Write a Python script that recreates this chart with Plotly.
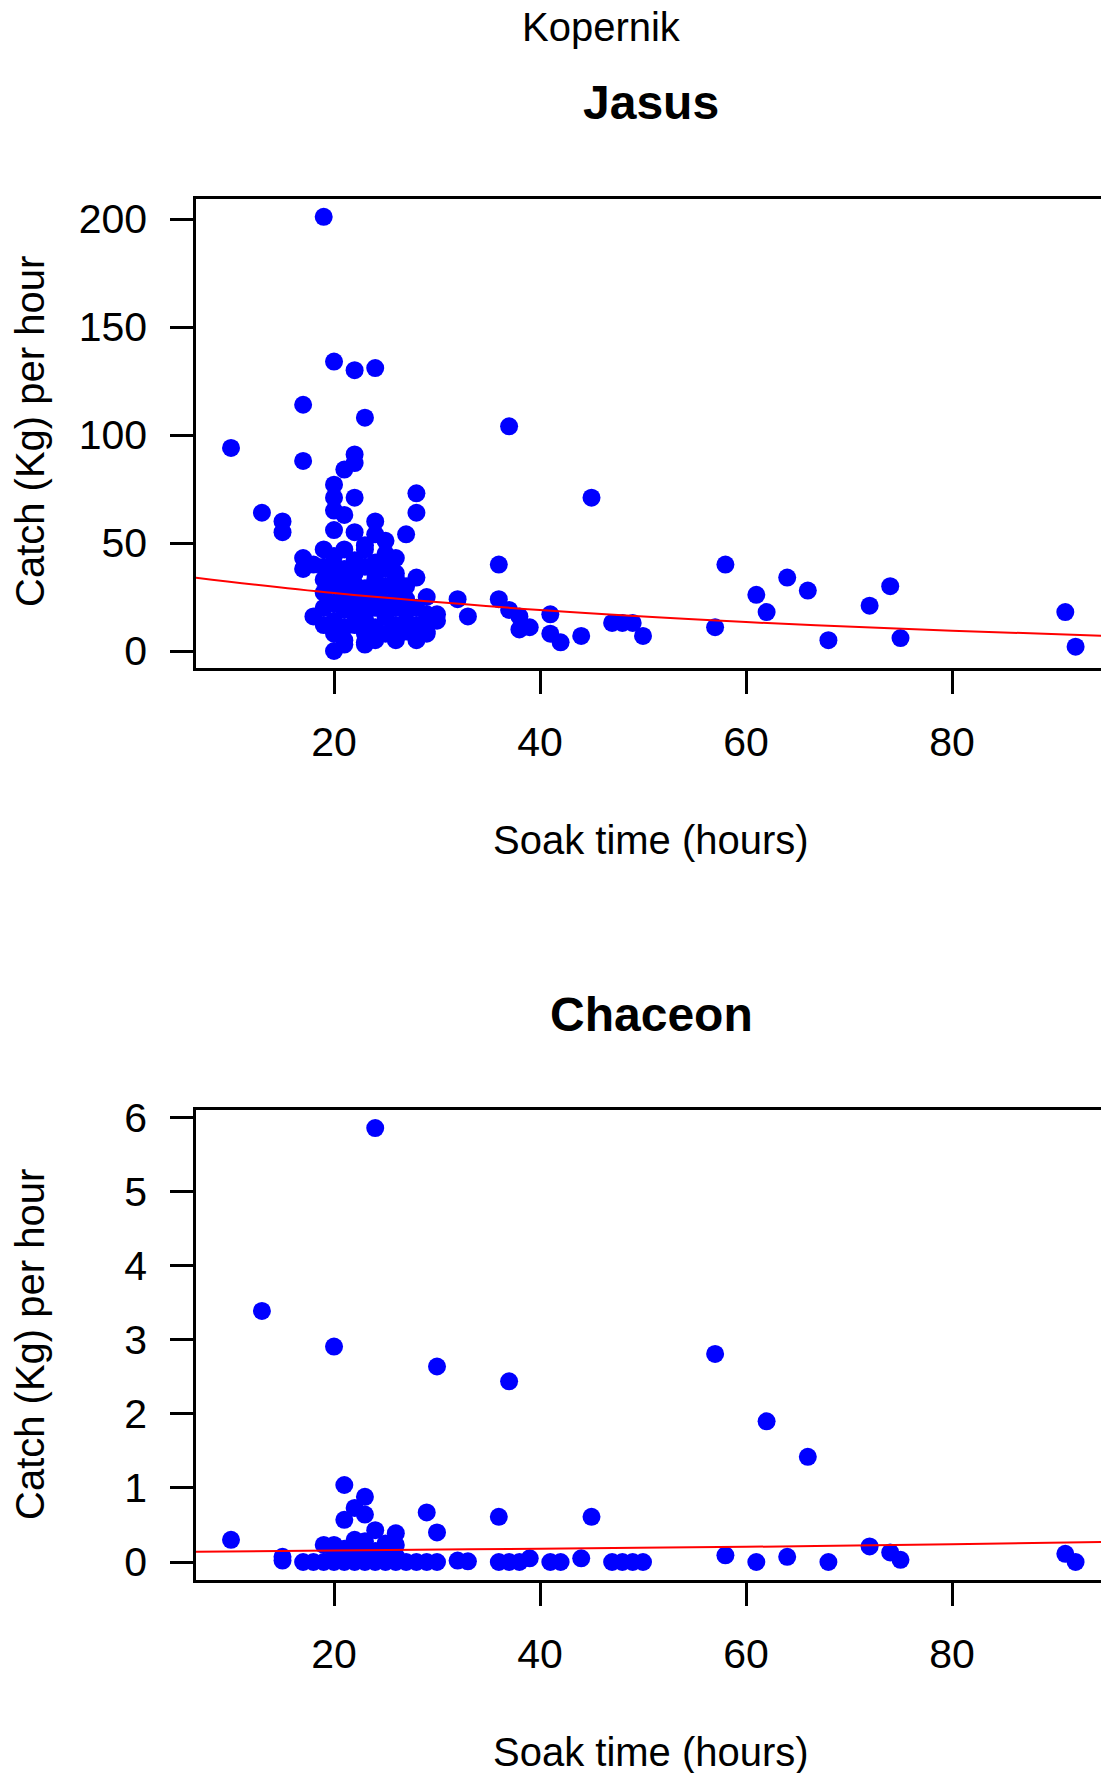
import plotly.graph_objects as go

W, H = 1101, 1773

# ---------------- data ----------------
jasus_x = [19, 20, 22, 24, 17, 23, 37, 10, 17, 22, 22, 21, 20, 20, 22, 20, 21, 28, 28, 45,
           13, 15, 15, 20, 22, 24, 24, 27, 17, 17, 18, 20, 36, 36, 32, 33,
           41, 41, 42, 44, 47, 48, 49, 50, 38, 39, 37, 38, 30, 29, 28, 28, 26, 23, 28, 26,
           58, 61, 62, 64, 66, 57, 68, 72, 74, 75, 91, 92,
           19, 21, 23, 25, 25, 26, 19, 19, 21, 23, 24, 22, 20, 20, 20, 20, 21, 22, 23, 23,
           24, 24, 26, 26, 28, 29, 30, 29, 29, 26, 23, 22, 19, 21, 25, 21, 23, 22, 20, 21,
           24, 25, 27, 22, 20, 24, 21, 23, 22, 27, 25, 24, 27, 26, 25, 21, 19, 22, 23, 28, 27,
           18, 19, 21, 24, 26, 27, 29, 25, 23, 20]
jasus_y = [201, 134, 130, 131, 114, 108, 104, 94, 88, 91, 87, 84, 77, 71, 71, 65, 63, 73, 64, 71,
           64, 60, 55, 56, 55, 60, 54, 54, 43, 38, 16, 0, 40, 24, 24, 16,
           17, 8, 4, 7, 13, 13, 13, 7, 16, 11, 19, 10, 14, 9, 5, 12, 7, 4, 34, 36,
           40, 26, 18, 34, 28, 11, 5, 21, 30, 6, 18, 2,
           47, 47, 49, 45, 51, 34, 33, 39, 38, 39, 33, 31, 30, 22, 14, 8, 5, 17, 8, 3,
           11, 20, 5, 20, 11, 8, 17, 17, 25, 27, 25, 25, 27, 19, 16, 11, 47, 42, 44, 3,
           26, 30, 24, 36, 40, 41, 27, 15, 21, 14, 8, 5, 30, 43, 38, 33, 20, 12, 29, 20, 9,
           40, 12, 22, 36, 12, 19, 13, 22, 19, 35]

chaceon_x = [24, 13, 20, 30, 37, 57, 62, 66, 10, 21, 23, 22, 21, 23, 24, 26, 29, 30, 36, 45,
             19, 20, 22, 23, 25, 26, 15, 15,
             17, 18, 19, 20, 21, 22, 23, 24, 25, 26, 27, 28, 29, 30, 32, 33, 36, 37, 38, 39,
             41, 42, 44, 47, 48, 49, 50,
             58, 61, 64, 68, 72, 74, 75, 91, 92,
             20, 22, 24, 21, 25, 23, 26]
chaceon_y = [5.86, 3.39, 2.91, 2.64, 2.44, 2.81, 1.90, 1.42, 0.30, 1.04, 0.88, 0.73, 0.57, 0.64, 0.43, 0.39, 0.67, 0.40, 0.61, 0.61,
             0.23, 0.23, 0.30, 0.28, 0.25, 0.23, 0.07, 0.02,
             0.0, 0.0, 0.0, 0.0, 0.0, 0.0, 0.0, 0.0, 0.0, 0.0, 0.0, 0.0, 0.0, 0.0, 0.02, 0.01, 0.0, 0.0, 0.0, 0.05,
             0.0, 0.0, 0.05, 0.0, 0.0, 0.0, 0.0,
             0.09, 0.0, 0.07, 0.0, 0.21, 0.13, 0.03, 0.11, 0.0,
             0.10, 0.12, 0.15, 0.18, 0.12, 0.05, 0.08]

# fitted curves, values
jasus_fit_x = [6.6, 20, 40, 60, 80, 94.5]
jasus_fit_y = [33.9, 26.8, 19.0, 13.4, 9.4, 7.1]
chaceon_fit_x = [6.6, 20, 40, 60, 80, 94.5]
chaceon_fit_y = [0.14, 0.155, 0.18, 0.205, 0.24, 0.27]

x_ticks = [20, 40, 60, 80]
jasus_ticks = [0, 50, 100, 150, 200]
chaceon_ticks = [0, 1, 2, 3, 4, 5, 6]

# ---------------- layout helpers ----------------
def fx(p):
    return p / W

def fy(p):
    return 1 - p / H

FONT = "Liberation Sans, Arial, sans-serif"
PLOT_L = 196
X_RANGE = [6.6, 20 + (W - 334) / 10.3]

fig = go.Figure()

panels = [
    (jasus_x, jasus_y, jasus_fit_x, jasus_fit_y, "x", "y", 199, 668, [-7.87, 209.26], jasus_ticks),
    (chaceon_x, chaceon_y, chaceon_fit_x, chaceon_fit_y, "x2", "y2", 1110, 1580, [-0.243, 6.104], chaceon_ticks),
]

for i, (xs, ys, fxs, fys, xa, ya, top, bot, yr, yt) in enumerate(panels):
    fig.add_trace(go.Scatter(x=xs, y=ys, mode="markers", xaxis=xa, yaxis=ya,
                             marker=dict(color="#0000FF", size=18, line=dict(width=0)),
                             showlegend=False))
    fig.add_trace(go.Scatter(x=fxs, y=fys, mode="lines", xaxis=xa, yaxis=ya,
                             line=dict(color="#FF0000", width=2, shape="spline"),
                             showlegend=False))
    suffix = "" if i == 0 else "2"
    axis_common = dict(showgrid=False, zeroline=False, showline=True, linecolor="black",
                       linewidth=2.5, ticks="outside", ticklen=23, tickwidth=2.5,
                       tickcolor="black", automargin=False,
                       tickfont=dict(family=FONT, size=41, color="black"))
    fig.layout["xaxis" + suffix] = dict(axis_common, domain=[fx(PLOT_L), 1], range=X_RANGE,
                                        tickvals=x_ticks, mirror=True,
                                        anchor="y" + suffix, ticklabelstandoff=13)
    fig.layout["yaxis" + suffix] = dict(axis_common, domain=[fy(bot), fy(top)], range=yr,
                                        tickvals=yt, mirror=False,
                                        anchor="x" + suffix, ticklabelstandoff=15)

annos = [
    dict(text="Kopernik", x=fx(601), y=fy(27), font=dict(family=FONT, size=40)),
    dict(text="<b>Jasus</b>", x=fx(651), y=fy(102), font=dict(family=FONT, size=48)),
    dict(text="Soak time (hours)", x=fx(651), y=fy(840), font=dict(family=FONT, size=40)),
    dict(text="<b>Chaceon</b>", x=fx(651), y=fy(1014), font=dict(family=FONT, size=48)),
    dict(text="Soak time (hours)", x=fx(651), y=fy(1752), font=dict(family=FONT, size=40)),
    dict(text="Catch (Kg) per hour", x=fx(30), y=fy(432), textangle=-90, font=dict(family=FONT, size=40)),
    dict(text="Catch (Kg) per hour", x=fx(30), y=fy(1345), textangle=-90, font=dict(family=FONT, size=40)),
]
for a in annos:
    a["font"]["color"] = "black"
    fig.add_annotation(xref="paper", yref="paper", showarrow=False,
                       xanchor="center", yanchor="middle", **a)

fig.update_layout(width=W, height=H, margin=dict(l=0, r=0, t=0, b=0),
                  paper_bgcolor="white", plot_bgcolor="white",
                  font=dict(family=FONT, color="black"))

fig.write_html("out.html")
